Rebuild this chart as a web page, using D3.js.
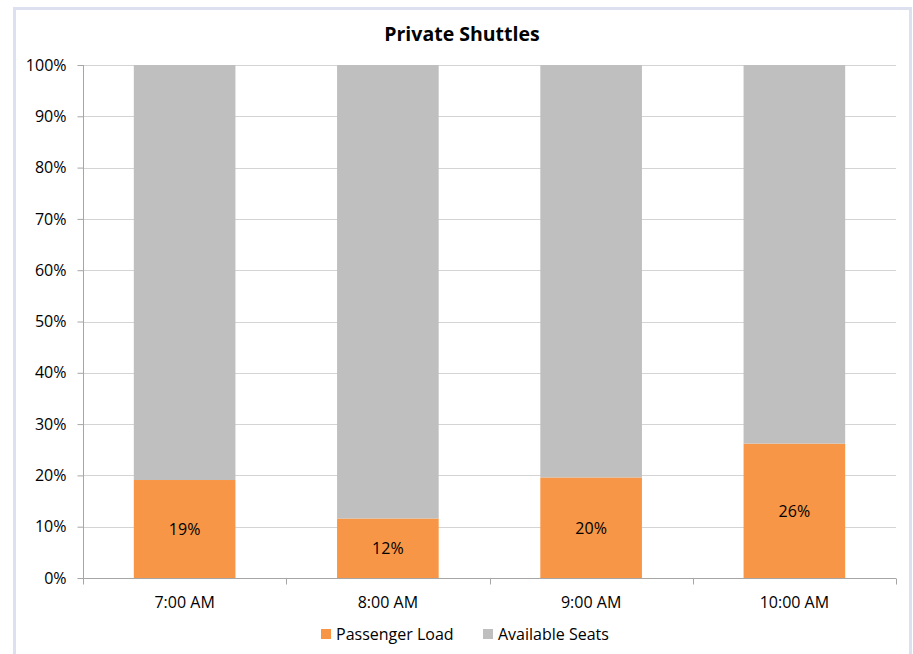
<!DOCTYPE html>
<html>
<head>
<meta charset="utf-8">
<script src="https://cdn.jsdelivr.net/npm/d3@7"></script>
<style>
  html, body { margin: 0; padding: 0; background: #fff; }
  svg { display: block; }
  text { font-family: "Open Sans", "Noto Sans", sans-serif; fill: #000; }
</style>
</head>
<body>
<svg id="chart" width="913" height="654"></svg>
<script>
// Share of seats occupied on each departure, and the remainder left open
const categories = ["7:00 AM", "8:00 AM", "9:00 AM", "10:00 AM"];
const passengerLoad = [0.191, 0.116, 0.196, 0.262];
const availableSeats = passengerLoad.map(v => 1 - v);
const seriesNames = ["Passenger Load", "Available Seats"];
const seriesColors = ["#f79646", "#bfbfbf"];
const yTicks = [0, 0.1, 0.2, 0.3, 0.4, 0.5, 0.6, 0.7, 0.8, 0.9, 1.0];

const svg = d3.select("#chart");
const W = 913, H = 654;
const FONT = 16;

// outer frame
svg.append("rect")
  .attr("x", 14.5).attr("y", 8.5)
  .attr("width", 896).attr("height", 660)
  .attr("fill", "#fff")
  .attr("stroke", "#dde0ef").attr("stroke-width", 3);

const margin = { left: 83, right: 17, top: 65, bottom: 76 };
const x0 = margin.left, x1 = W - margin.right;
const y0 = H - margin.bottom, y1 = margin.top;

const x = d3.scaleBand().domain(categories).range([x0, x1]).paddingInner(0.5).paddingOuter(0.25);
const xEdges = d3.scaleBand().domain(categories).range([x0, x1]);
const y = d3.scaleLinear().domain([0, 1]).range([y0, y1]);

// gridlines
svg.append("g").selectAll("line").data(yTicks.filter(t => t > 0)).join("line")
  .attr("x1", x0).attr("x2", x1)
  .attr("y1", d => Math.round(y(d)) + 0.5).attr("y2", d => Math.round(y(d)) + 0.5)
  .attr("stroke", "#d4d4d4").attr("stroke-width", 1);

// stacked bars
const rows = categories.map((c, i) => ({ cat: c, load: passengerLoad[i], avail: availableSeats[i] }));
const stack = d3.stack().keys(["load", "avail"])(rows);

svg.append("g").selectAll("g").data(stack).join("g")
  .attr("fill", (d, i) => seriesColors[i])
  .selectAll("rect").data(d => d).join("rect")
  .attr("x", d => x(d.data.cat))
  .attr("width", x.bandwidth())
  .attr("y", d => y(d[1]))
  .attr("height", d => y(d[0]) - y(d[1]));

// value labels inside the load segment
const pct = d3.format(".0%");
svg.append("g").selectAll("text").data(rows).join("text")
  .attr("x", d => x(d.cat) + x.bandwidth() / 2)
  .attr("y", d => (y(0) + y(d.load)) / 2)
  .attr("text-anchor", "middle").attr("dominant-baseline", "central")
  .attr("font-size", FONT)
  .text(d => pct(d.load));

// y axis
const yAxis = d3.axisLeft(y).tickValues(yTicks).tickFormat(pct).tickSize(6).tickPadding(11);
const gy = svg.append("g").attr("transform", `translate(${x0 + 0.5},0)`).call(yAxis);
gy.select(".domain").attr("stroke", "#a6a6a6").attr("d", `M0,${y1}V${y0}`);
gy.selectAll(".tick line").attr("stroke", "#a6a6a6");
gy.selectAll(".tick text").attr("font-size", FONT).attr("fill", "#000")
  .attr("font-family", "'Open Sans', 'Noto Sans', sans-serif");

// x axis with ticks at category boundaries
const gx = svg.append("g").attr("transform", `translate(0,${y0 + 0.5})`);
gx.append("line").attr("x1", x0).attr("x2", x1).attr("stroke", "#a6a6a6");
const edges = categories.map(c => xEdges(c)).concat([x1]);
gx.selectAll("line.edge").data(edges).join("line").attr("class", "edge")
  .attr("x1", d => Math.round(d) + 0.5).attr("x2", d => Math.round(d) + 0.5)
  .attr("y1", 0).attr("y2", 6).attr("stroke", "#a6a6a6");
gx.selectAll("text").data(categories).join("text")
  .attr("x", d => x(d) + x.bandwidth() / 2)
  .attr("y", 23)
  .attr("text-anchor", "middle").attr("dominant-baseline", "central")
  .attr("font-size", FONT)
  .text(d => d);

// title
svg.append("text")
  .attr("x", 462).attr("y", 33)
  .attr("text-anchor", "middle").attr("dominant-baseline", "central")
  .attr("font-size", 19.5).attr("font-weight", "bold")
  .text("Private Shuttles");

// legend
const legend = svg.append("g");
const legendX = [321, 483];
seriesNames.forEach((name, i) => {
  const g = legend.append("g").attr("transform", `translate(${legendX[i]},634)`);
  g.append("rect").attr("x", 0).attr("y", -5).attr("width", 10).attr("height", 10).attr("fill", seriesColors[i]);
  g.append("text").attr("x", 15).attr("y", 0)
    .attr("dominant-baseline", "central").attr("font-size", FONT).text(name);
});
</script>
</body>
</html>
